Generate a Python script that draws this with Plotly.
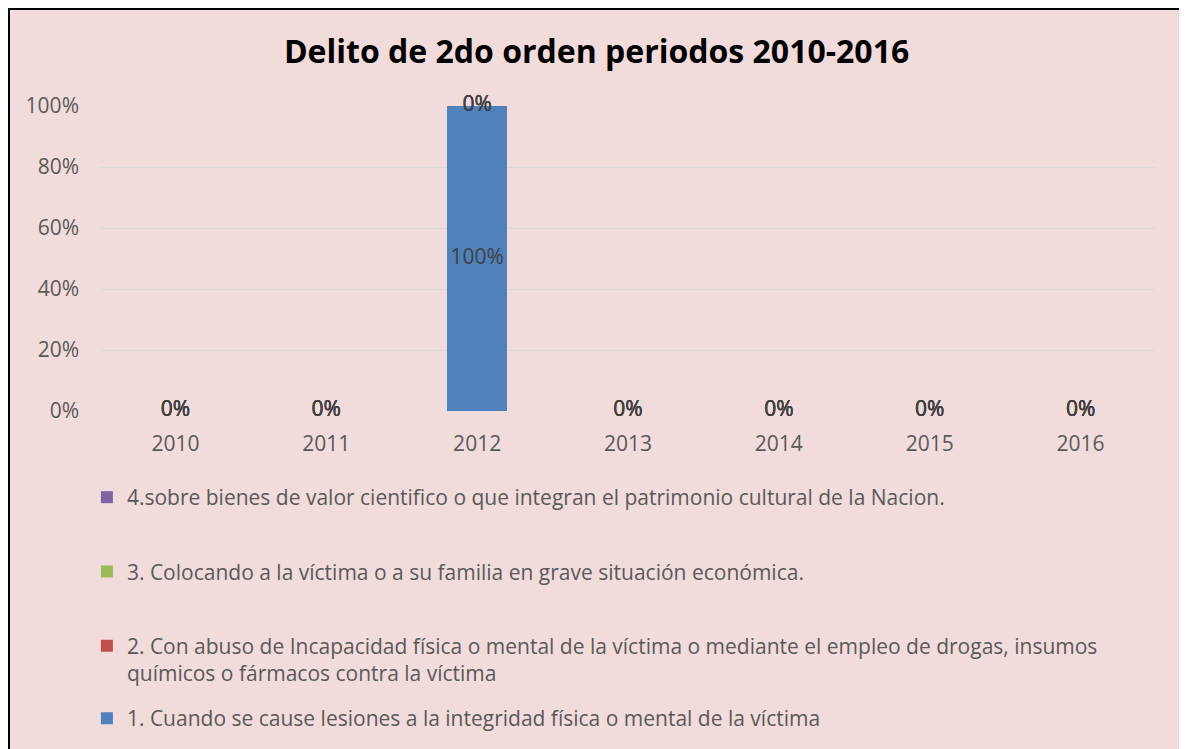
import plotly.graph_objects as go

years = ["2010", "2011", "2012", "2013", "2014", "2015", "2016"]
series_names = [
    "1. Cuando se cause lesiones a la integridad física o mental de la víctima",
    "2. Con abuso de Incapacidad física o mental de la víctima o mediante el empleo de drogas, insumos<br>químicos o fármacos contra la víctima",
    "3. Colocando a la víctima o a su familia en grave situación económica.",
    "4.sobre bienes de valor cientifico o que integran el patrimonio cultural de la Nacion.",
]
s1 = [0, 0, 100, 0, 0, 0, 0]
s2 = [0, 0, 0, 0, 0, 0, 0]
s3 = [0, 0, 0, 0, 0, 0, 0]
s4 = [0, 0, 0, 0, 0, 0, 0]
series_values = [s1, s2, s3, s4]
colors = ["#4F81BD", "#C0504D", "#9BBB59", "#8064A2"]
y_ticks = [0, 20, 40, 60, 80, 100]
y_tick_labels = ["0%", "20%", "40%", "60%", "80%", "100%"]

FONT = "Open Sans"
FS = 21
fig = go.Figure()

for i, (name, vals) in enumerate(zip(series_names, series_values)):
    fig.add_trace(go.Bar(
        x=years, y=vals, name=name, marker_color=colors[i],
        marker_line_width=0, legendgroup=str(i),
        legendrank=10 - i,
        legend="legend2" if i == 0 else "legend",
    ))

# data labels (one per segment, at segment midpoint of the stack)
cum = [0] * len(years)
for i, vals in enumerate(series_values):
    mids = [c + v / 2 for c, v in zip(cum, vals)]
    fig.add_trace(go.Scatter(
        x=years, y=mids, mode="text",
        text=[f"{v:.0f}%" for v in vals],
        textfont=dict(family=FONT, size=FS, color="#404040"),
        showlegend=False, hoverinfo="skip", cliponaxis=False,
    ))
    cum = [c + v for c, v in zip(cum, vals)]

fig.add_shape(type="rect", xref="paper", yref="paper",
              x0=-0.0862, x1=1.0227, y0=-1.2, y1=1.318,
              fillcolor="#F2DCDB", line=dict(color="#000000", width=2),
              layer="below")

legend_common = dict(orientation="v", xanchor="left", yanchor="top",
                     bgcolor="rgba(0,0,0,0)", valign="top",
                     font=dict(family=FONT, size=FS, color="#595959"))

fig.update_layout(
    barmode="stack",
    bargap=0.6,
    width=1179, height=741,
    margin=dict(l=92, r=31, t=98, b=338, autoexpand=False),
    paper_bgcolor="white",
    plot_bgcolor="rgba(0,0,0,0)",
    title=dict(text="<b>Delito de 2do orden periodos 2010-2016</b>",
               x=0.4992, xanchor="center", y=0.9406, yanchor="middle",
               font=dict(family=FONT, size=32, color="#000000")),
    xaxis=dict(showgrid=False, showline=False, zeroline=False, ticks="",
               tickfont=dict(family=FONT, size=FS, color="#595959"),
               ticklabelstandoff=18),
    yaxis=dict(range=[0, 100], tickvals=y_ticks, ticktext=y_tick_labels,
               showgrid=True, gridcolor="#D9D9D9", gridwidth=1,
               zeroline=False, showline=False, ticks="",
               tickfont=dict(family=FONT, size=FS, color="#595959"),
               ticklabelstandoff=20),
    showlegend=True,
    legend=dict(x=-0.0124, y=-0.2164, traceorder="grouped", tracegroupgap=44,
                **legend_common),
    legend2=dict(x=-0.0124, y=-0.9414, **legend_common),
)

fig.write_html("out.html")
